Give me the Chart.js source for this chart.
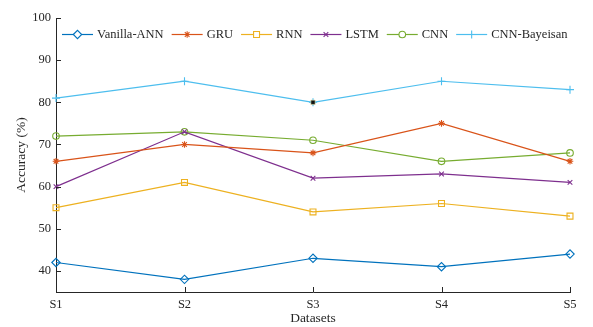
<!DOCTYPE html>
<html>
<head>
<meta charset="utf-8">
<script src="https://cdn.jsdelivr.net/npm/chart.js@4/dist/chart.umd.min.js"></script>
<style>
  html, body { margin: 0; padding: 0; background: #fff; }
  #wrap { width: 593px; height: 327px; }
</style>
</head>
<body>
<div id="wrap"><canvas id="c" width="593" height="327"></canvas></div>
<script>
// Datasets along the x axis
const datasetsLabels = ['S1', 'S2', 'S3', 'S4', 'S5'];

// Accuracy (%) per model
const vanillaAnn   = [42, 38, 43, 41, 44];
const gru          = [66, 70, 68, 75, 66];
const rnn          = [55, 61, 54, 56, 53];
const lstm         = [60, 73, 62, 63, 61];
const cnn          = [72, 73, 71, 66, 68];
const cnnBayeisan  = [81, 85, 80, 85, 83];

// Highlighted point on the CNN-Bayeisan curve
const highlight    = [null, null, 80, null, null];

// Y-axis tick values
const yTicks = [40, 50, 60, 70, 80, 90, 100];

const FONT = '"Liberation Serif", "Times New Roman", serif';
const INK = '#262626';

const series = [
  { label: 'Vanilla-ANN',  data: vanillaAnn,  color: '#0072BD', style: 'rectRot',  r: 4.2 },
  { label: 'GRU',          data: gru,         color: '#D95319', style: 'star',     r: 3.3 },
  { label: 'RNN',          data: rnn,         color: '#EDB120', style: 'rect',     r: 4.2 },
  { label: 'LSTM',         data: lstm,        color: '#7E2F8E', style: 'crossRot', r: 3.3 },
  { label: 'CNN',          data: cnn,         color: '#77AC30', style: 'circle',   r: 3.3 },
  { label: 'CNN-Bayeisan', data: cnnBayeisan, color: '#4DBEEE', style: 'cross',    r: 4   }
];

const chartDatasets = series.map(s => ({
  label: s.label,
  data: s.data,
  borderColor: s.color,
  backgroundColor: '#ffffff',
  pointStyle: s.style,
  pointRadius: s.r,
  pointHoverRadius: s.r,
  pointBorderWidth: 1.1,
  pointBackgroundColor: 'rgba(255,255,255,0)',
  pointBorderColor: s.color,
  borderWidth: 1.2,
  tension: 0,
  clip: false,
  order: 1
}));

// Data tip marker, drawn above all curves
chartDatasets.push({
  label: 'datatip',
  data: highlight,
  showLine: false,
  pointStyle: 'rect',
  pointRadius: 3,
  pointBackgroundColor: '#111111',
  pointBorderColor: '#d8d8a0',
  pointBorderWidth: 0.6,
  clip: false,
  order: 0
});

// Legend drawn as line + marker + text, laid out in one row inside the plot
const inlineLegend = {
  id: 'inlineLegend',
  afterDraw(chart) {
    const ctx = chart.ctx;
    ctx.save();
    ctx.font = '12.5px ' + FONT;
    ctx.textBaseline = 'middle';
    ctx.textAlign = 'left';
    let x = 62;
    const y = 34.5;
    const lineLen = 31;
    series.forEach(s => {
      ctx.strokeStyle = s.color;
      ctx.lineWidth = 1.2;
      ctx.beginPath();
      ctx.moveTo(x, y);
      ctx.lineTo(x + lineLen, y);
      ctx.stroke();
      ctx.fillStyle = '#ffffff';
      ctx.strokeStyle = s.color;
      ctx.lineWidth = 1.1;
      Chart.helpers.drawPoint(ctx, { pointStyle: s.style, radius: s.r, rotation: 0, borderWidth: 1.1 }, x + lineLen / 2, y);
      ctx.fillStyle = INK;
      const tx = x + lineLen + 4;
      ctx.fillText(s.label, tx, y + 0.5);
      x = tx + ctx.measureText(s.label).width + 8;
    });
    ctx.restore();
  }
};

// Tick marks pointing into the plot area
const innerTicks = {
  id: 'innerTicks',
  afterDraw(chart) {
    const ctx = chart.ctx;
    const xs = chart.scales.x, ys = chart.scales.y;
    const a = chart.chartArea;
    ctx.save();
    ctx.strokeStyle = INK;
    ctx.lineWidth = 1;
    ctx.beginPath();
    yTicks.forEach(v => {
      const py = Math.round(ys.getPixelForValue(v)) + 0.5;
      ctx.moveTo(a.left, py);
      ctx.lineTo(a.left + 5, py);
    });
    datasetsLabels.forEach((lab, i) => {
      const px = Math.round(xs.getPixelForValue(i)) + 0.5;
      ctx.moveTo(px, a.bottom);
      ctx.lineTo(px, a.bottom - 5);
    });
    ctx.stroke();
    ctx.restore();
  }
};

new Chart(document.getElementById('c'), {
  type: 'line',
  data: { labels: datasetsLabels, datasets: chartDatasets },
  options: {
    responsive: false,
    animation: false,
    events: [],
    layout: { padding: { left: 13, right: 23, top: 18, bottom: 0 } },
    plugins: {
      legend: { display: false },
      tooltip: { enabled: false }
    },
    scales: {
      x: {
        type: 'category',
        offset: false,
        grid: { display: false, drawTicks: false },
        border: { display: true, color: INK, width: 1 },
        ticks: { color: INK, font: { family: FONT, size: 12.5 }, padding: 5, maxRotation: 0, autoSkip: false },
        title: { display: true, text: 'Datasets', color: INK, font: { family: FONT, size: 13.5 }, padding: { top: 0, bottom: 0 } },
        afterFit(scale) { scale.height = 35; }
      },
      y: {
        min: 35,
        max: 100,
        grid: { display: false, drawTicks: false },
        border: { display: true, color: INK, width: 1 },
        afterBuildTicks(scale) { scale.ticks = yTicks.map(v => ({ value: v })); },
        ticks: { color: INK, font: { family: FONT, size: 12.5 }, padding: 5 },
        title: { display: true, text: 'Accuracy (%)', color: INK, font: { family: FONT, size: 13.5 }, padding: { top: 0, bottom: 0 } },
        afterFit(scale) { scale.width = 43; }
      }
    }
  },
  plugins: [inlineLegend, innerTicks]
});
</script>
</body>
</html>
